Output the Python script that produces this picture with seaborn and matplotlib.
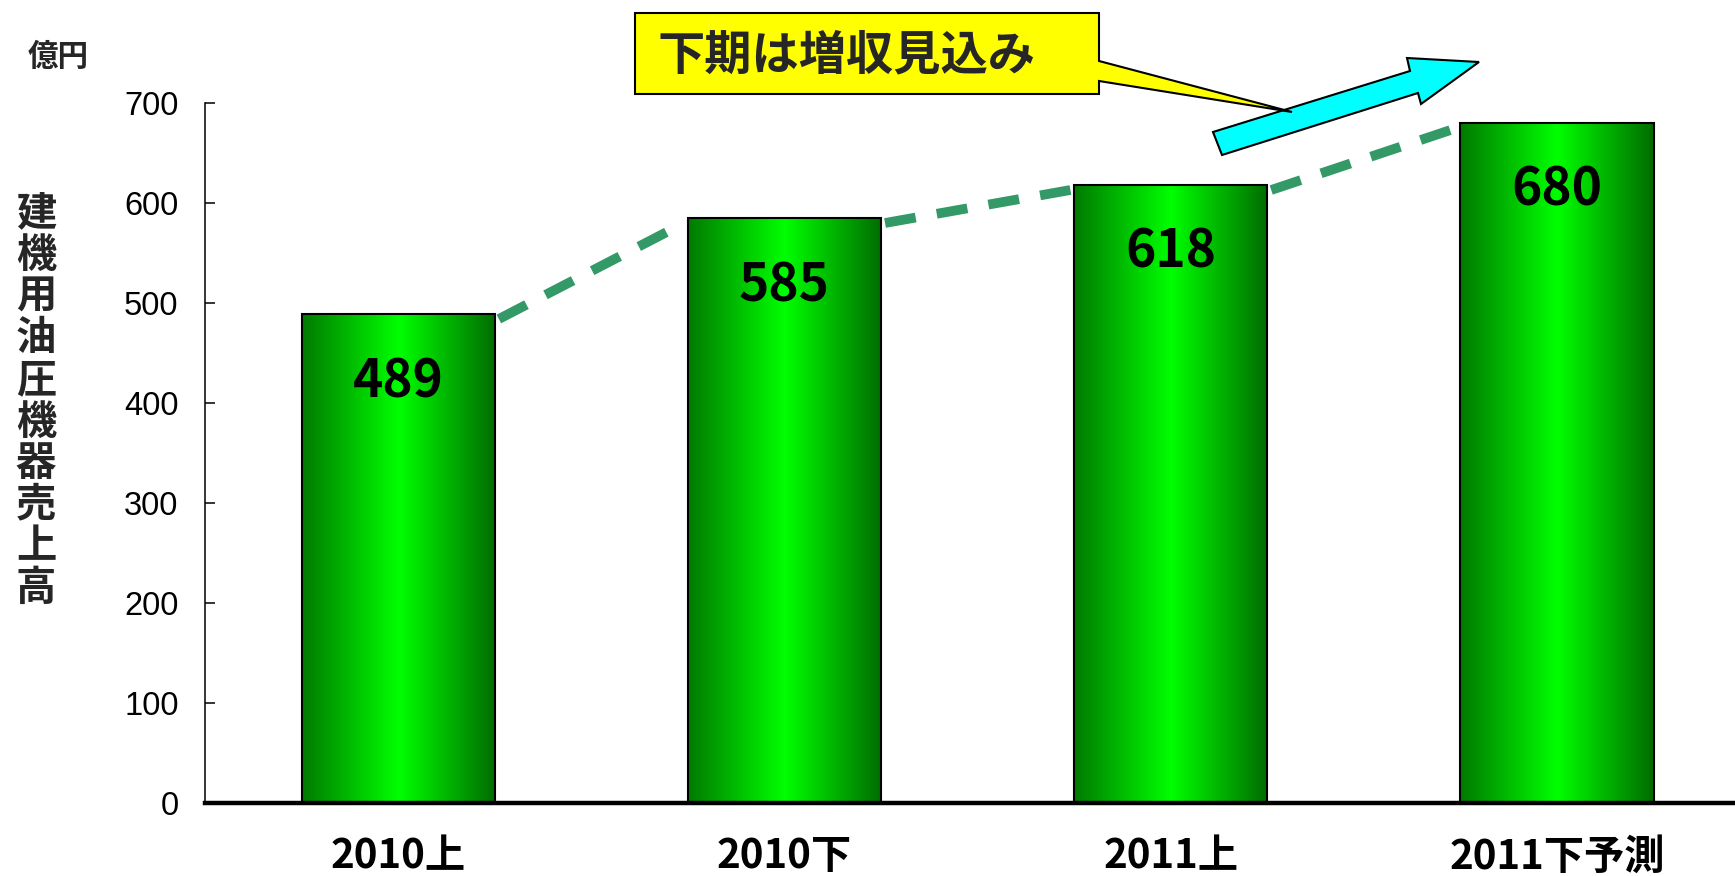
import numpy as np
import pandas as pd
import matplotlib
matplotlib.use("Agg")
import matplotlib.pyplot as plt
import seaborn as sns
from matplotlib.colors import LinearSegmentedColormap
from matplotlib.patches import Polygon

#---------- data ----------
periods = ["2010上", "2010下", "2011上", "2011下予測"]
sales = [489, 585, 618, 680]
yticks = [0, 100, 200, 300, 400, 500, 600, 700]
ylabel_chars = list("建機用油圧機器売上高")
unit = "億円"
callout_text = "下期は増収見込み"

#---------- style ----------
sns.set_theme(style="white")
plt.rcParams["font.family"] = ["Noto Sans CJK JP", "DejaVu Sans"]

W, H = 1735, 876
fig = plt.figure(figsize=(W / 100, H / 100), dpi=100)
ax = fig.add_axes([205 / W, 73 / H, 1 - 205 / W, 700 / H])

df = pd.DataFrame({"period": periods, "sales": sales})
sns.barplot(data=df, x="period", y="sales", width=0.5, color="#00cc00",
            edgecolor="black", linewidth=1.5, ax=ax, zorder=2)

#---------- gradient fill on bars ----------
cmap = LinearSegmentedColormap.from_list("g", ["#007a00", "#00ff00", "#006c00"])
grad = np.linspace(0, 1, 256).reshape(1, -1)
for p in list(ax.patches):
    x0, w, h = p.get_x(), p.get_width(), p.get_height()
    ax.imshow(grad, cmap=cmap, extent=[x0, x0 + w, 0, h], aspect="auto",
              interpolation="bicubic", zorder=2)
    p.set_facecolor("none")
    p.set_zorder(3)

#---------- dashed trend between bars ----------
for i in range(len(sales) - 1):
    ax.plot([i + 0.26, i + 0.74], [sales[i] - 5, sales[i + 1] - 5],
            color="#339966", lw=7, dashes=(3.2, 2.2), dash_capstyle="butt", zorder=4)

#---------- value labels ----------
for i, v in enumerate(sales):
    ax.text(i, v - 83, str(v), ha="center", va="baseline", fontsize=37,
            fontweight="bold", color="black", zorder=5)

#---------- axes ----------
ax.set_xlim(-0.501, 3.461)
ax.set_ylim(0, 700)
ax.set_yticks(yticks)
ax.set_xlabel("")
ax.set_ylabel("")
ax.spines[["top", "right"]].set_visible(False)
ax.spines["left"].set_color("black")
ax.spines["left"].set_linewidth(1.1)
ax.spines["bottom"].set_color("black")
ax.spines["bottom"].set_linewidth(3.2)
ax.spines["bottom"].set_zorder(6)
ax.tick_params(axis="y", left=True, direction="in", length=7, width=1.1,
               labelsize=23.5, pad=19, color="black", labelcolor="black")
ax.tick_params(axis="x", bottom=False, length=0, labelsize=29, pad=24, labelcolor="black")
for t in ax.get_yticklabels():
    t.set_family(["Liberation Sans", "Noto Sans CJK JP"])
for t in ax.get_xticklabels():
    t.set_fontweight("bold")

#---------- y label (stacked) and unit ----------
for i, ch in enumerate(ylabel_chars):
    fig.text(36 / W, 1 - (214 + i * 41.6) / H, ch, ha="center", va="center",
             fontsize=29, fontweight="bold")
fig.text(58 / W, 1 - 57 / H, unit, ha="center", va="center", fontsize=22, fontweight="bold")

#---------- arrow and callout ----------
def px(points):
    return [(x / W, 1 - y / H) for x, y in points]

arrow_pts = [(1213, 132), (1410, 71), (1407, 58), (1479, 62), (1421, 104), (1418, 93), (1222, 155)]
fig.add_artist(Polygon(px(arrow_pts), closed=True, transform=fig.transFigure,
                       facecolor="#00ffff", edgecolor="black", lw=1.5, zorder=5))

callout_pts = [(635, 13), (1099, 13), (1099, 61), (1292, 112), (1099, 81), (1099, 94), (635, 94)]
fig.add_artist(Polygon(px(callout_pts), closed=True, transform=fig.transFigure,
                       facecolor="#ffff00", edgecolor="black", lw=1.5, zorder=6))
fig.text(657 / W, 1 - 55 / H, callout_text, ha="left", va="center", fontsize=34,
         fontweight="bold", zorder=7)

fig.savefig("out.png", dpi=100)
